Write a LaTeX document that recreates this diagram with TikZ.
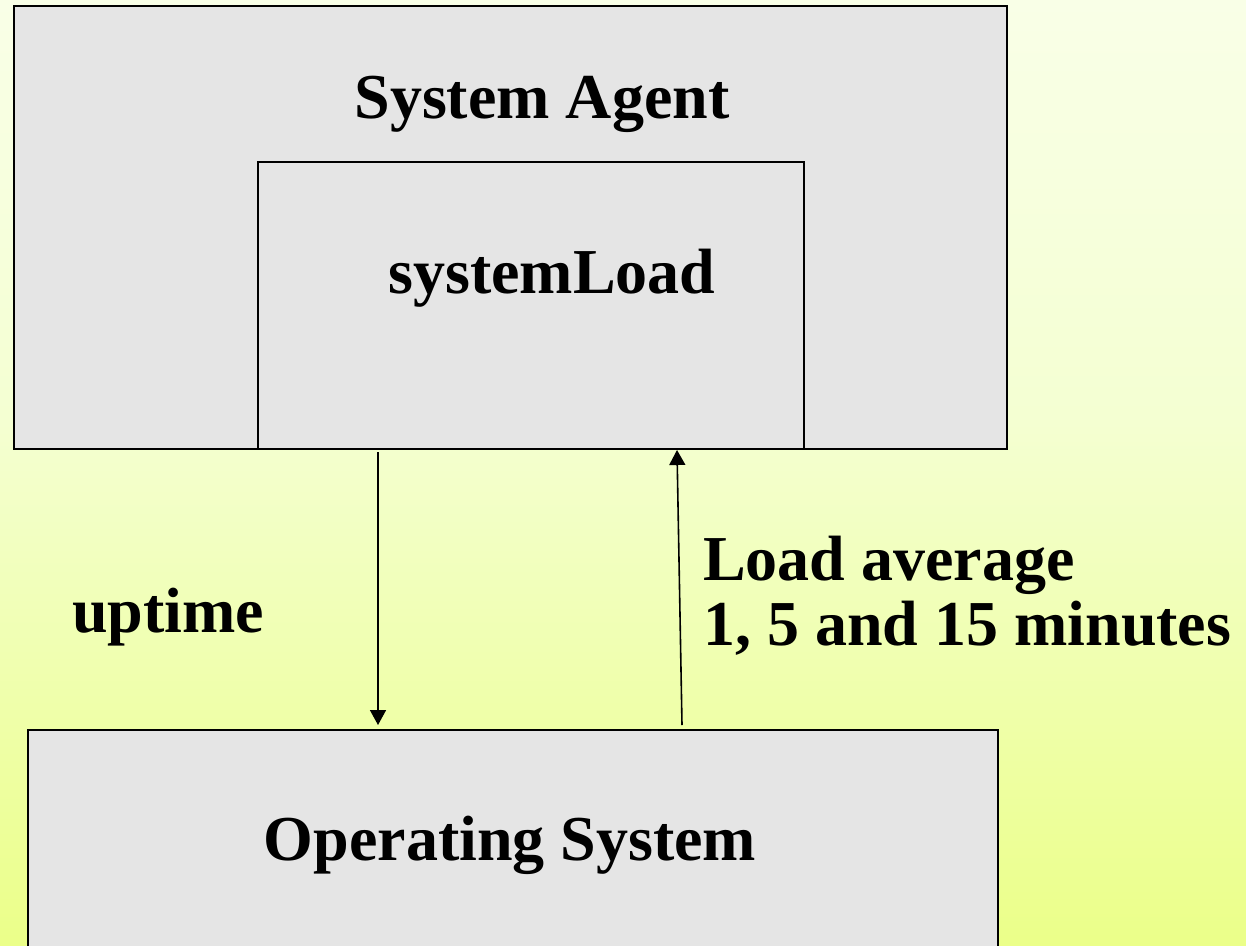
\documentclass[tikz,border=0pt]{standalone}
\usepackage{fontspec}
\setmainfont{Liberation Serif}
\usetikzlibrary{arrows.meta}
\definecolor{boxgray}{HTML}{E5E5E5}
\definecolor{bgtop}{HTML}{FFFFFF}
\definecolor{bgmid}{HTML}{F4FFD2}
\definecolor{bgbot}{HTML}{E3FF48}
\pgfdeclareverticalshading{slidebg}{100bp}{color(0bp)=(bgbot); color(53bp)=(bgmid); color(100bp)=(bgtop)}
\tikzset{
  panel/.style={draw=black, line width=2pt, fill=boxgray, inner sep=0pt, anchor=north west},
  label/.style={font=\bfseries\fontsize{64}{66}\selectfont, inner sep=0pt},
  flow/.style={line width=1.6pt, -{Triangle[length=15pt,width=16pt]}}
}
\begin{document}
\begin{tikzpicture}[x=1pt,y=-1pt]
  \useasboundingbox (0,0) rectangle (1246,945);
  \shade[shading=slidebg] (0,0) rectangle (1246,945);
  % boxes
  \node[panel, minimum width=993pt, minimum height=443pt] (agent) at (13,5) {};
  \node[panel, minimum width=546pt, minimum height=287pt] (load) at (257,161) {};
  \node[panel, minimum width=970pt, minimum height=240pt] (os) at (27,729) {};
  % arrow end points just outside the boxes
  \coordinate (downtop) at (378,452);
  \coordinate (downbot) at (378,725);
  \coordinate (upbot) at (682,725);
  \coordinate (uptop) at (677,450);
  % texts
  \node[label, anchor=base] (agentlbl) at (542,118) {System Agent};
  \node[label, anchor=base] (loadlbl) at (552,293) {systemLoad};
  \node[label, anchor=base] (oslbl) at (510,860) {Operating System};
  \node[label, anchor=base west] (uplbl) at (72,632) {uptime};
  \node[label, anchor=base west] (avglbl) at (703,580) {Load average};
  \node[label, anchor=base west] (minlbl) at (703,645) {1, 5 and 15 minutes};
  % connectors
  \draw[flow] (downtop) -- (downbot);
  \draw[flow] (upbot) -- (uptop);
\end{tikzpicture}
\end{document}
